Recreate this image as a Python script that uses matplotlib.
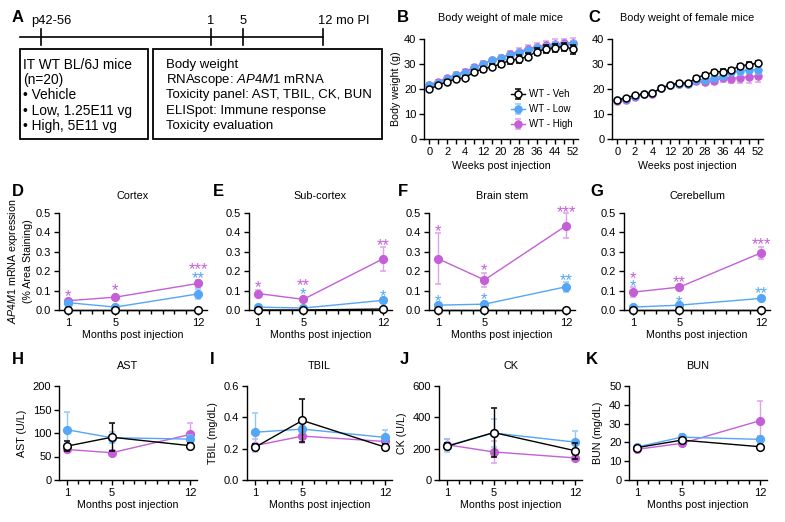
import numpy as np
import matplotlib
matplotlib.use("Agg")
import matplotlib.pyplot as plt
from matplotlib.patches import Rectangle

plt.rcParams['font.family'] = ['Liberation Sans', 'DejaVu Sans']
plt.rcParams['mathtext.fontset'] = 'custom'
plt.rcParams['mathtext.rm'] = 'Liberation Sans'
plt.rcParams['mathtext.it'] = 'Liberation Sans:italic'
plt.rcParams['axes.linewidth'] = 1.0
plt.rcParams['xtick.major.width'] = 1.0
plt.rcParams['ytick.major.width'] = 1.0
plt.rcParams['xtick.minor.width'] = 1.0

#Datos
#========================================================================
weeks = [0, 1, 2, 3, 4, 8, 12, 16, 20, 24, 28, 32, 36, 40, 44, 48, 52]
week_labels = ['0', '', '2', '', '4', '', '12', '', '20', '', '28', '', '36', '', '44', '', '52']

male_veh = [20.0, 21.5, 23.0, 24.0, 24.5, 26.8, 28.0, 29.0, 30.0, 31.5, 32.0, 33.0, 35.0, 36.0, 36.5, 37.0, 36.0]
male_veh_err = [0.6, 0.7, 0.7, 0.7, 0.8, 0.9, 1.0, 1.1, 1.2, 1.4, 1.5, 1.4, 1.5, 1.5, 1.6, 1.6, 1.8]
male_low = [21.5, 22.5, 24.2, 25.5, 26.5, 28.5, 30.0, 31.5, 32.3, 33.5, 34.5, 35.5, 36.5, 37.0, 37.5, 37.8, 38.0]
male_low_err = [0.5, 0.6, 0.6, 0.7, 0.7, 0.8, 0.8, 0.9, 0.9, 1.0, 1.0, 1.0, 1.1, 1.1, 1.2, 1.2, 1.2]
male_high = [21.8, 23.0, 24.5, 25.8, 27.0, 28.7, 30.2, 31.5, 32.5, 34.0, 35.0, 36.0, 37.0, 37.5, 38.0, 38.3, 38.5]
male_high_err = [0.7, 0.8, 0.8, 0.9, 0.9, 1.0, 1.0, 1.1, 1.2, 1.3, 1.4, 1.5, 1.6, 1.7, 2.0, 1.8, 1.8]

female_veh = [15.7, 16.5, 17.5, 18.0, 18.3, 20.5, 21.5, 22.5, 22.3, 24.4, 25.7, 26.8, 27.0, 27.7, 29.2, 29.8, 30.3]
female_veh_err = [0.4, 0.4, 0.5, 0.5, 0.5, 0.6, 0.6, 0.6, 0.7, 0.7, 0.8, 0.8, 0.9, 0.9, 1.0, 1.0, 1.1]
female_low = [15.5, 16.0, 17.2, 18.0, 18.5, 20.5, 21.5, 22.0, 22.0, 23.7, 23.7, 24.4, 25.3, 26.7, 27.1, 27.7, 27.7]
female_low_err = [0.4, 0.4, 0.5, 0.5, 0.5, 0.6, 0.6, 0.6, 0.7, 0.8, 0.9, 1.0, 1.1, 1.2, 1.3, 1.4, 1.5]
female_high = [15.1, 15.7, 16.7, 18.0, 18.0, 20.5, 21.5, 22.0, 22.0, 23.1, 22.7, 23.3, 24.4, 24.2, 24.6, 24.8, 25.2]
female_high_err = [0.5, 0.5, 0.6, 0.6, 0.7, 0.7, 0.8, 0.8, 0.9, 1.0, 1.2, 1.4, 1.6, 1.8, 2.2, 2.3, 2.4]

months = [1, 5, 12]

# expresion AP4M1 (% area) por region: veh, low, high
regiones = ['Cortex', 'Sub-cortex', 'Brain stem', 'Cerebellum']
rna_veh = [[0, 0, 0], [0, 0, 0.005], [0, 0, 0], [0, 0, 0]]
rna_veh_err = [[0, 0, 0], [0, 0, 0.002], [0, 0, 0], [0, 0, 0]]
rna_low = [[0.038, 0.015, 0.083], [0.015, 0.01, 0.05], [0.025, 0.03, 0.12], [0.015, 0.025, 0.06]]
rna_low_err = [[0.01, 0.005, 0.025], [0.005, 0.004, 0.012], [0.006, 0.006, 0.025], [0.005, 0.006, 0.012]]
rna_high = [[0.048, 0.066, 0.137], [0.085, 0.055, 0.265], [0.265, 0.155, 0.435], [0.092, 0.118, 0.295]]
rna_high_err = [[0.01, 0.008, 0.02], [0.02, 0.008, 0.062], [0.13, 0.035, 0.065], [0.025, 0.01, 0.03]]

# asteriscos: (texto, altura)
stars_high = [[('*', 0.095), ('*', 0.126), ('***', 0.233)],
              [('*', 0.14), ('**', 0.15), ('**', 0.36)],
              [('*', 0.43), ('*', 0.228), ('***', 0.526)],
              [('*', 0.19), ('**', 0.167), ('***', 0.362)]]
stars_low = [[None, None, ('**', 0.19)],
             [None, ('*', 0.106), ('*', 0.094)],
             [('*', 0.072), ('*', 0.081), ('**', 0.18)],
             [('*', 0.147), ('*', 0.066), ('**', 0.109)]]

# panel de toxicidad
tox_names = ['AST', 'TBIL', 'CK', 'BUN']
tox_ylabels = ['AST (U/L)', 'TBIL (mg/dL)', 'CK (U/L)', 'BUN (mg/dL)']
tox_veh = [[72, 91, 73], [0.21, 0.38, 0.21], [215, 303, 187], [17.2, 21.2, 17.7]]
tox_veh_err = [[10, 30, 5], [0.02, 0.14, 0.02], [20, 154, 50], [0.8, 1.2, 0.8]]
tox_low = [[107, 90, 87], [0.305, 0.325, 0.272], [219, 300, 242], [17.5, 22.8, 21.6]]
tox_low_err = [[38, 12, 8], [0.12, 0.02, 0.046], [40, 87, 68], [0.8, 1.5, 2.0]]
tox_high = [[65, 58, 97], [0.22, 0.28, 0.246], [225, 179, 141], [16.3, 19.5, 31.6]]
tox_high_err = [[6, 6, 25], [0.04, 0.045, 0.03], [35, 71, 15], [0.8, 1.2, 10.5]]
tox_ylim = [200, 0.6, 600, 50]
tox_ystep = [50, 0.2, 200, 10]

c_veh = 'black'
c_low = '#55A6F6'
c_high = '#C45FD8'
c_low_e = '#93C6F8'
c_high_e = '#DDA3EA'

#Figura
#========================================================================
W, H = 785, 522
fig = plt.figure(figsize=(7.85, 5.22), dpi=100)

FT = 8      # ticks
FL = 7.7    # etiquetas de ejes
FTI = 7.8   # titulos
FS = 12     # asteriscos


def rect(x0, y0, x1, y1):
    return [x0 / W, 1 - y1 / H, (x1 - x0) / W, (y1 - y0) / H]


def fx(x):
    return x / W


def fy(y):
    return 1 - y / H


def estilo(ax):
    ax.spines['top'].set_visible(False)
    ax.spines['right'].set_visible(False)
    ax.tick_params(direction='out', length=3.5, labelsize=FT, pad=2)
    ax.tick_params(which='minor', direction='out', length=3)


def serie(ax, x, y, e, color, ecolor, face, label=None, z=3, ms=5.5):
    return ax.errorbar(x, y, yerr=e, color=color, ecolor=ecolor, marker='o', ms=ms,
                       mfc=face, mec=color, mew=1.1, lw=1, elinewidth=1, capsize=2.3,
                       capthick=1, clip_on=False, zorder=z, label=label)


def estrella(ax, x, y, t, color):
    # centro del asterisco sobre (x, y)
    ax.annotate(t, (x, y), xytext=(0, -0.58 * FS), textcoords='offset points',
                color=color, fontsize=FS, ha='center', va='baseline', annotation_clip=False)


# Panel A: esquema
ov = fig.add_axes([0, 0, 1, 1])
ov.set_xlim(0, W)
ov.set_ylim(H, 0)
ov.axis('off')
ov.plot([20, 323], [37, 37], color='black', lw=1.2)
for xt in [41, 211, 243, 323]:
    ov.plot([xt, xt], [29, 45], color='black', lw=1.2)
ov.text(31, 21, 'p42-56', fontsize=9.3, va='center', ha='left')
ov.text(211, 21, '1', fontsize=9.3, va='center', ha='center')
ov.text(243, 21, '5', fontsize=9.3, va='center', ha='center')
ov.text(318, 21, '12 mo PI', fontsize=9.3, va='center', ha='left')
ov.add_patch(Rectangle((20, 49), 128, 90, fill=False, lw=1.3, ec='black'))
ov.add_patch(Rectangle((153, 49), 229, 90, fill=False, lw=1.3, ec='black'))
izq = ['IT WT BL/6J mice', '(n=20)', '\u2022 Vehicle', '\u2022 Low, 1.25E11 vg', '\u2022 High, 5E11 vg']
der = ['Body weight', 'RNAscope: $\\mathit{AP4M1}$ mRNA', 'Toxicity panel: AST, TBIL, CK, BUN',
       'ELISpot: Immune response', 'Toxicity evaluation']
for i, t in enumerate(izq):
    ov.text(23, 65 + i * 15.2, t, fontsize=9.9, va='center', ha='left')
for i, t in enumerate(der):
    ov.text(166, 65 + i * 15.2, t, fontsize=9.5, va='center', ha='left')

# letras de panel
letras = {'A': (12, 17), 'B': (397, 17), 'C': (588, 17),
          'D': (12, 192), 'E': (213, 192), 'F': (398, 192), 'G': (590, 192),
          'H': (12, 360), 'I': (210, 360), 'J': (400, 360), 'K': (586, 360)}
for k, (x, y) in letras.items():
    fig.text(fx(x), fy(y), k, fontsize=12, fontweight='bold', va='center', ha='left')

# Paneles B y C
idx = np.arange(len(weeks))
for pos, datos, titulo in [((424, 39, 578, 139), (male_veh, male_veh_err, male_low, male_low_err, male_high, male_high_err), 'Body weight of male mice'),
                           ((612, 39, 763, 139), (female_veh, female_veh_err, female_low, female_low_err, female_high, female_high_err), 'Body weight of female mice')]:
    ax = fig.add_axes(rect(*pos))
    estilo(ax)
    v, ve, l, le, h, he = datos
    hh = serie(ax, idx, h, he, c_high, c_high_e, c_high, 'WT - High', 2, 5)
    hl = serie(ax, idx, l, le, c_low, c_low_e, c_low, 'WT - Low', 3, 5)
    hv = serie(ax, idx, v, ve, c_veh, c_veh, 'white', 'WT - Veh', 4, 5)
    ax.set_ylim(0, 40)
    ax.set_yticks([0, 10, 20, 30, 40])
    ax.set_xlim(-0.6, len(weeks) - 0.4)
    ax.set_xticks(idx)
    ax.set_xticklabels(week_labels)
    ax.set_xlabel('Weeks post injection', fontsize=FL, labelpad=3)
    ax.set_title(titulo, fontsize=FTI, pad=13)
    if pos[0] == 424:
        ax.set_ylabel('Body weight (g)', fontsize=FL, labelpad=2)
        ax.legend([hv, hl, hh], ['WT - Veh', 'WT - Low', 'WT - High'], loc='lower right',
                  frameon=False, fontsize=7, handlelength=1.4, handletextpad=0.4,
                  borderaxespad=0.2, labelspacing=0.5, bbox_to_anchor=(1.0, 0.04))

# Paneles D-G
pos_rna = [(59, 213, 207, 310), (249, 213, 392, 310), (429, 213, 575, 310), (624, 213, 770, 310)]
for i in range(4):
    ax = fig.add_axes(rect(*pos_rna[i]))
    estilo(ax)
    serie(ax, months, rna_high[i], rna_high_err[i], c_high, c_high_e, c_high, z=2)
    serie(ax, months, rna_low[i], rna_low_err[i], c_low, c_low_e, c_low, z=3)
    serie(ax, months, rna_veh[i], rna_veh_err[i], c_veh, c_veh, 'white', z=4)
    ax.set_ylim(0, 0.5)
    ax.set_yticks(np.arange(0, 0.51, 0.1))
    ax.set_yticklabels(['0.0', '0.1', '0.2', '0.3', '0.4', '0.5'])
    ax.set_xlim(0.25, 12.75)
    ax.set_xticks(months)
    ax.set_xticks(range(1, 13), minor=True)
    ax.set_xlabel('Months post injection', fontsize=FL, labelpad=1.5)
    ax.set_title(regiones[i], fontsize=FTI, pad=10)
    for j in range(3):
        if stars_high[i][j] is not None:
            estrella(ax, months[j], stars_high[i][j][1], stars_high[i][j][0], c_high)
        if stars_low[i][j] is not None:
            estrella(ax, months[j], stars_low[i][j][1], stars_low[i][j][0], c_low)
    if i == 0:
        ax.set_ylabel('$\\mathit{AP4M1}$ mRNA expression\n(% Area Staining)', fontsize=FL,
                      labelpad=2, linespacing=1.4)

# Paneles H-K
pos_tox = [(59, 386, 197, 480), (247, 386, 392, 480), (439, 386, 582, 480), (629, 386, 767, 480)]
for i in range(4):
    ax = fig.add_axes(rect(*pos_tox[i]))
    estilo(ax)
    serie(ax, months, tox_high[i], tox_high_err[i], c_high, c_high_e, c_high, z=2)
    serie(ax, months, tox_low[i], tox_low_err[i], c_low, c_low_e, c_low, z=3)
    serie(ax, months, tox_veh[i], tox_veh_err[i], c_veh, c_veh, 'white', z=4)
    ax.set_ylim(0, tox_ylim[i])
    ax.set_yticks(np.arange(0, tox_ylim[i] * 1.001, tox_ystep[i]))
    if i == 1:
        ax.set_yticklabels(['0.0', '0.2', '0.4', '0.6'])
    ax.set_xlim(0.3, 12.6)
    ax.set_xticks(months)
    ax.set_xticks(range(1, 13), minor=True)
    ax.set_xlabel('Months post injection', fontsize=FL, labelpad=1.5)
    ax.set_title(tox_names[i], fontsize=FTI, pad=12)
    ax.set_ylabel(tox_ylabels[i], fontsize=FL, labelpad=4)

fig.savefig('out.png', dpi=100)
